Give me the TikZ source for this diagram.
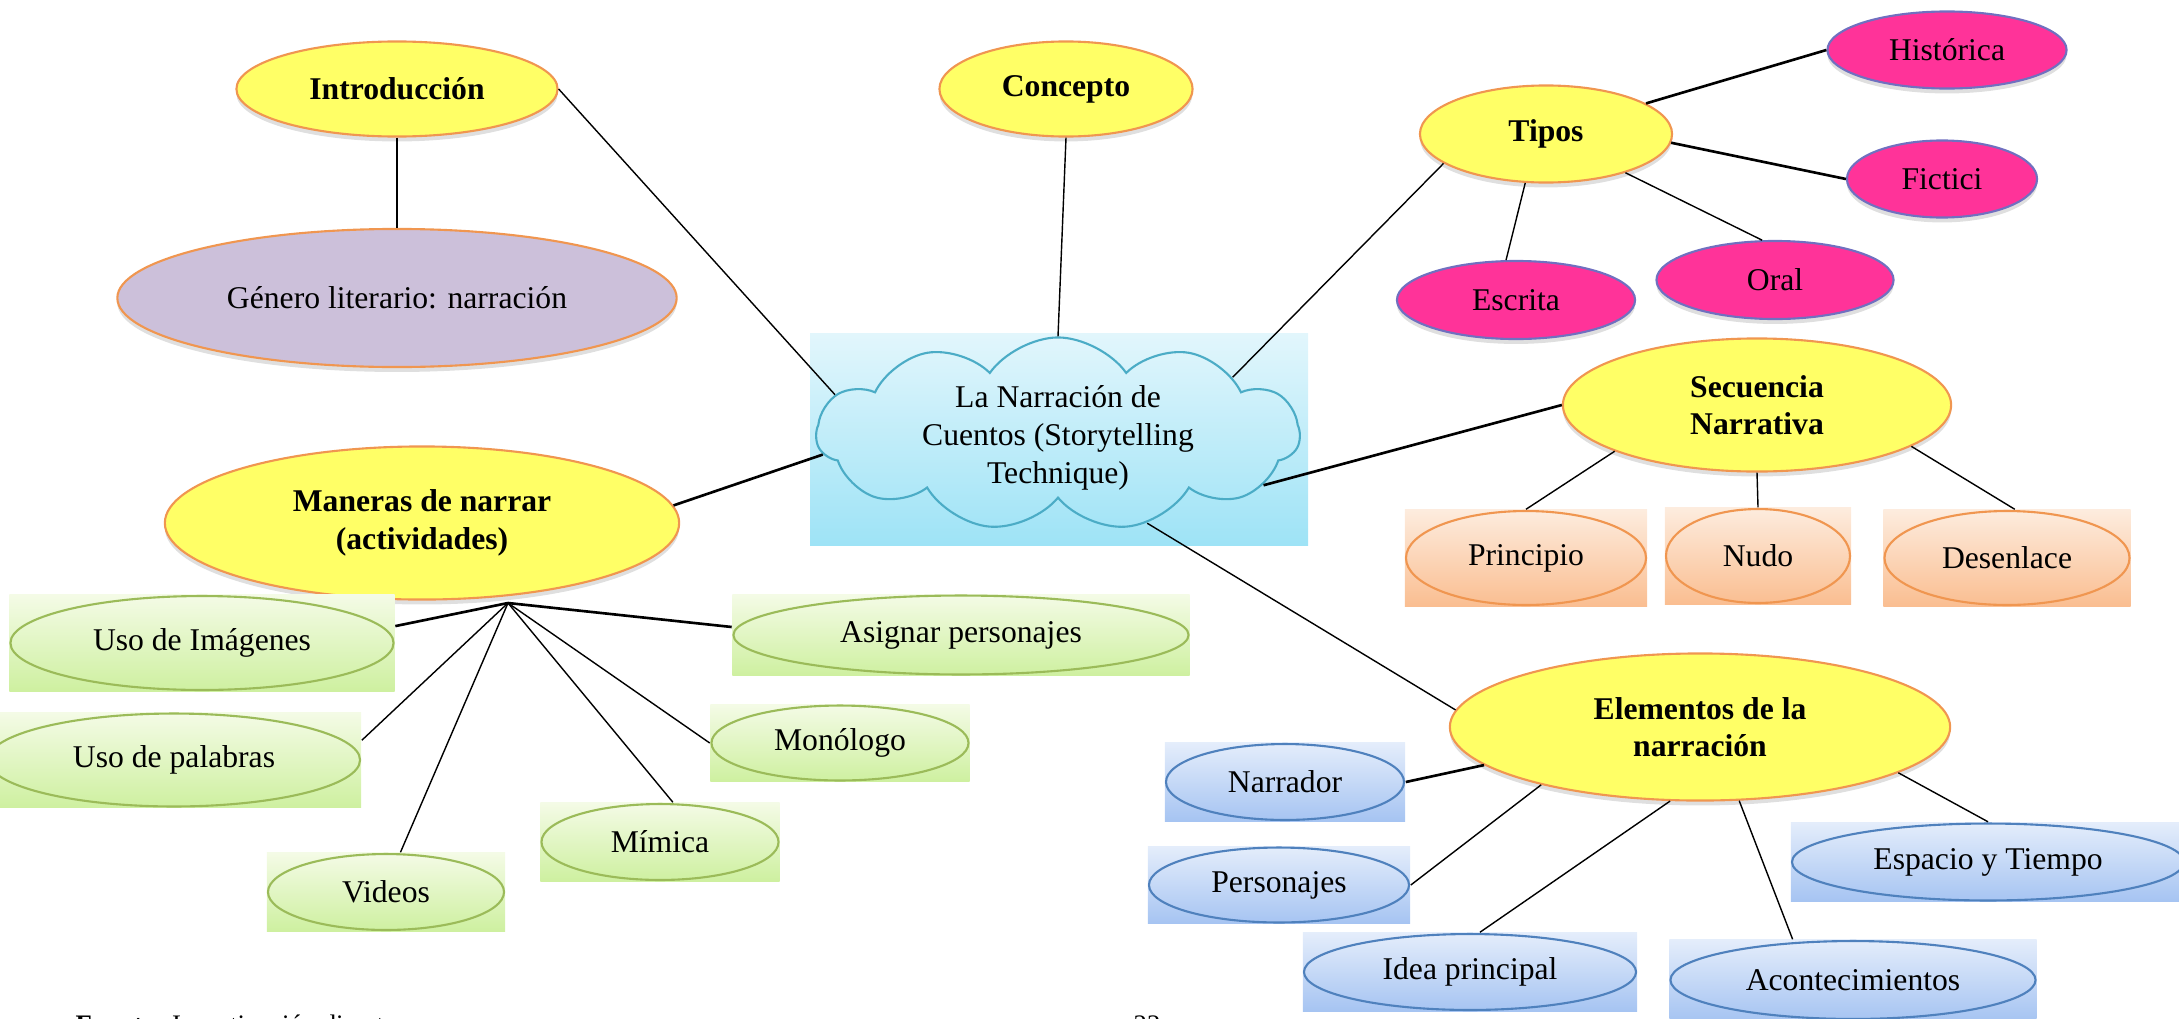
\documentclass[tikz,border=0pt]{standalone}
\usepackage{fontspec}
\setmainfont{Liberation Serif}
\usepackage{tikz}
\usetikzlibrary{shapes}
\usetikzlibrary{shapes.symbols}
\usetikzlibrary{shadows}
\usetikzlibrary{calc}
\definecolor{topyellow}{RGB}{255,255,102}
\definecolor{edgeorange}{RGB}{240,150,80}
\definecolor{lilac}{RGB}{204,192,218}
\definecolor{pinkfill}{RGB}{255,51,153}
\definecolor{pinkline}{RGB}{112,112,192}
\definecolor{peachtop}{RGB}{253,236,222}
\definecolor{peachbot}{RGB}{250,190,145}
\definecolor{greentop}{RGB}{244,251,230}
\definecolor{greenbot}{RGB}{206,240,160}
\definecolor{greenline}{RGB}{155,187,89}
\definecolor{bluetop}{RGB}{228,237,251}
\definecolor{bluebot}{RGB}{166,196,242}
\definecolor{blueline}{RGB}{79,129,189}
\definecolor{skytop}{RGB}{226,246,252}
\definecolor{skybot}{RGB}{158,227,246}
\definecolor{cloudline}{RGB}{75,172,198}
\tikzset{
    softshadow/.style = {drop shadow={shadow xshift=0pt,shadow yshift=-1.4pt,opacity=0.25}},
    topnode/.style = {ellipse, draw=edgeorange, line width=0.6pt, fill=topyellow, align=center, font=\bfseries, softshadow},
    lilacnode/.style = {ellipse, draw=edgeorange, line width=0.6pt, fill=lilac, softshadow},
    pinknode/.style = {ellipse, draw=pinkline, line width=0.6pt, fill=pinkfill, softshadow},
    ellring/.style = {path picture={\draw[#1,line width=0.6pt] let \p1=(path picture bounding box.north east), \p2=(path picture bounding box.center) in (\p2) ellipse ({\x1-\x2-0.3pt} and {\y1-\y2-0.3pt});}},
    peachbox/.style = {rectangle, top color=peachtop, bottom color=peachbot, ellring=edgeorange},
    greenbox/.style = {rectangle, top color=greentop, bottom color=greenbot, ellring=greenline},
    bluebox/.style = {rectangle, top color=bluetop, bottom color=bluebot, ellring=blueline},
    cloudnode/.style = {cloud, cloud puffs=11, cloud puff arc=110, cloud ignores aspect, draw=cloudline, line width=0.6pt, inner sep=0pt},
    edgen/.style = {line width=0.4pt},
    edgeb/.style = {line width=0.75pt},
    every picture/.style={font issue=\fontsize{9}{10.7}},
    font issue/.style={execute at begin picture={#1\selectfont}}
}
\begin{document}
\begin{tikzpicture}[x=0.01cm, y=-0.01cm]
  \useasboundingbox (0,0) rectangle (2179,1018);
  \shade[top color=skytop, bottom color=skybot] (810,333) rectangle (1308,545);
  % text smashed so that the cloud keeps its own size
  \node[cloudnode, minimum width=4.83cm, minimum height=1.93cm] at (1058,434) (cuentos) {\smash{\raisebox{-3.4pt}{\begin{tabular}{@{}c@{}}La Narración de\\Cuentos (Storytelling\\Technique)\end{tabular}}}};

  \node[topnode, minimum width=3.21cm, minimum height=0.95cm] at (397,89) (intro) {Introducción};
  \node[lilacnode, minimum width=5.59cm, minimum height=1.38cm] at (397,298) (genero) {Género literario: narración};
  \node[topnode, minimum width=2.53cm, minimum height=0.95cm] at (1066,89) (concepto) {Concepto};
  \node[topnode, minimum width=2.52cm, minimum height=0.97cm] at (1546,134) (tipos) {Tipos};
  \node[topnode, minimum width=3.88cm, minimum height=1.33cm] at (1757,405) (secuencia) {Secuencia\\Narrativa};
  \node[topnode, minimum width=5.14cm, minimum height=1.53cm] at (422,523) (maneras) {Maneras de narrar\\(actividades)};
  \node[topnode, minimum width=5.00cm, minimum height=1.47cm] at (1700,727) (elementos) {Elementos de la\\narración};

  \node[pinknode, minimum width=2.39cm, minimum height=0.77cm] at (1947,50) (historica) {Histórica};
  \node[pinknode, minimum width=1.90cm, minimum height=0.77cm] at (1942,179) (fictici) {Fictici};
  \node[pinknode, minimum width=2.38cm, minimum height=0.78cm] at (1516,300) (escrita) {Escrita};
  \node[pinknode, minimum width=2.37cm, minimum height=0.78cm] at (1775,280) (oral) {Oral};

  \node[peachbox, minimum width=2.42cm, minimum height=0.96cm] at (1526,558) (principio) {Principio};
  \node[peachbox, minimum width=1.86cm, minimum height=0.96cm] at (1758,556) (nudo) {Nudo};
  \node[peachbox, minimum width=2.47cm, minimum height=0.96cm] at (2007,558) (desenlace) {Desenlace};

  \node[greenbox, minimum width=3.85cm, minimum height=0.96cm] at (202,643) (imagenes) {Uso de Imágenes};
  \node[greenbox, minimum width=4.57cm, minimum height=0.81cm] at (961,635) (asignar) {Asignar personajes};
  \node[greenbox, minimum width=3.74cm, minimum height=0.95cm] at (174,760) (palabras) {Uso de palabras};
  \node[greenbox, minimum width=2.59cm, minimum height=0.77cm] at (840,743) (monologo) {Monólogo};
  \node[greenbox, minimum width=2.39cm, minimum height=0.78cm] at (660,842) (mimica) {Mímica};
  \node[greenbox, minimum width=2.38cm, minimum height=0.78cm] at (386,892) (videos) {Videos};

  \node[bluebox, minimum width=2.40cm, minimum height=0.78cm] at (1285,782) (narrador) {Narrador};
  \node[bluebox, minimum width=2.62cm, minimum height=0.77cm] at (1279,885) (personajes) {Personajes};
  \node[bluebox, minimum width=3.34cm, minimum height=0.78cm] at (1470,972) (idea) {Idea principal};
  \node[bluebox, minimum width=3.67cm, minimum height=0.80cm] at (1853,980) (acontecimientos) {Acontecimientos};
  \node[bluebox, minimum width=3.94cm, minimum height=0.79cm] at (1988,862) (espacio) {Espacio y Tiempo};

  \node[anchor=base west, inner sep=0pt, font=\fontsize{7.6}{9}\selectfont] at (75,1033) (fuente) {\textbf{Fuente:} Investigación directa};
  \node[anchor=base, inner sep=0pt, font=\fontsize{7.6}{9}\selectfont] at (1147,1033) (pagina) {22};

  \draw[edgen] (intro.east) -- (cuentos.170);
  \draw[edgen] (intro.south) -- (genero.north);
  \draw[edgen] (concepto.south) -- (cuentos.north);
  \draw[edgen] (cuentos.18) -- (tipos.196);
  \draw[edgeb] (tipos.17) -- (historica.west);
  \draw[edgeb] (tipos.-4) -- (fictici.west);
  \draw[edgen] (tipos.-26) -- (oral.108);
  \draw[edgen] (tipos.-113) -- (escrita.104);
  \draw[edgeb] (cuentos.-14) -- (secuencia.west);
  \draw[edgen] (secuencia.-162) -- (principio.north);
  \draw[edgen] (secuencia.south) -- (nudo.north);
  \draw[edgen] (secuencia.-15) -- (desenlace.81);
  \draw[edgen] (cuentos.-45) -- (elementos.176);
  \draw[edgeb] (elementos.190) -- (narrador.east);
  \draw[edgen] (elementos.200) -- (personajes.east);
  \draw[edgen] (elementos.248) -- (idea.76);
  \draw[edgen] (elementos.-62) -- (acontecimientos.146);
  \draw[edgen] (elementos.-13) -- (espacio.north);
  \draw[edgeb] (maneras.4) -- (cuentos.185);

  \coordinate (hub) at (508,603);
  \draw[edgeb] (hub) -- (imagenes.5);
  \draw[edgen] (hub) -- (palabras.6);
  \draw[edgen] (hub) -- (videos.70);
  \draw[edgen] (hub) -- (mimica.72);
  \draw[edgen] (hub) -- (monologo.west);
  \draw[edgeb] (hub) -- (asignar.178);
\end{tikzpicture}
\end{document}
